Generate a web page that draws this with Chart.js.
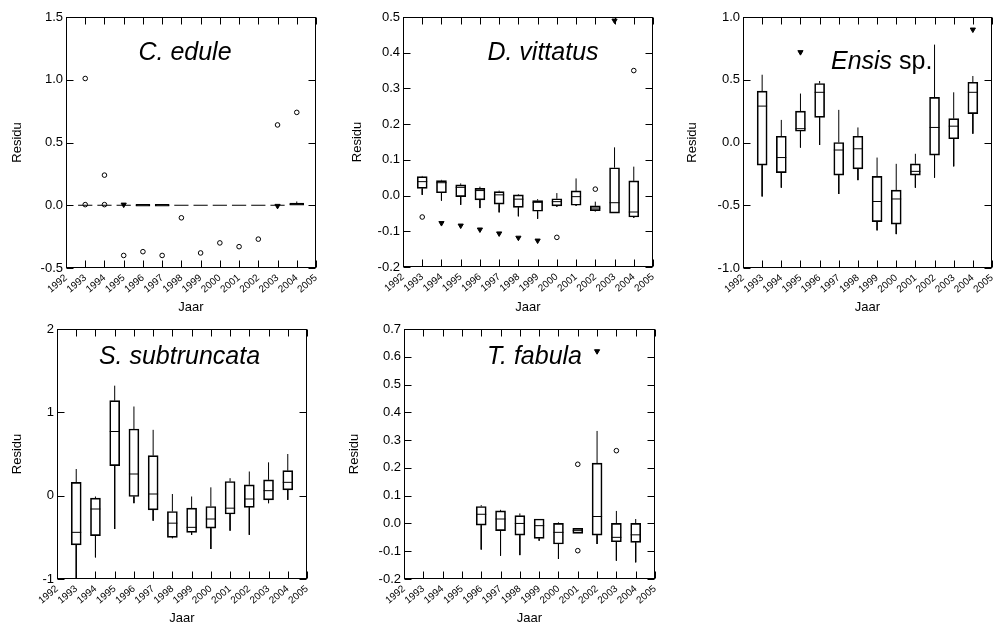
<!DOCTYPE html>
<html><head><meta charset="utf-8">
<script src="https://cdn.jsdelivr.net/npm/chart.js@4.4.1/dist/chart.umd.min.js"></script>
<style>
html,body{margin:0;padding:0;background:#fff;width:997px;height:623px;overflow:hidden;}
canvas{position:absolute;}
</style></head><body>
<canvas id="c1" width="330" height="315" style="left:0px;top:0px"></canvas>
<canvas id="c2" width="330" height="315" style="left:330px;top:0px"></canvas>
<canvas id="c3" width="337" height="315" style="left:660px;top:0px"></canvas>
<canvas id="c4" width="330" height="308" style="left:0px;top:315px"></canvas>
<canvas id="c5" width="330" height="308" style="left:330px;top:315px"></canvas>
<script>
// ---------- shared ----------
const xTickLabels = ['1992','1993','1994','1995','1996','1997','1998','1999','2000','2001','2002','2003','2004','2005'];
const xTitle = 'Jaar';
const yTitle = 'Residu';

// ---------- C. edule ----------
const edYears = [1993,1994,1995,1996,1997,1998,1999,2000,2001,2002,2003,2004];
const edLow   = [0,0,0,-0.008,-0.008,0,0,0,0,0,0,0.000];
const edQ1    = [0,0,0,-0.008,-0.008,0,0,0,0,0,0,0.000];
const edMed   = [0,0,0,0,0,0,0,0,0,0,0,0.008];
const edQ3    = [0,0,0,0.008,0.008,0,0,0,0,0,0,0.018];
const edHigh  = [0,0,0,0.008,0.008,0,0,0,0,0,0,0.030];
const edCircX = [1993,1993,1994,1994,1995,1996,1997,1998,1999,2000,2001,2002,2003,2004];
const edCircY = [1.01,0.005,0.24,0.005,-0.40,-0.37,-0.40,-0.10,-0.38,-0.30,-0.33,-0.27,0.64,0.74];
const edStarX = [1995,2003];
const edStarY = [0.005,-0.005];
const edYLabels = ['-0.5','0.0','0.5','1.0','1.5'];

// ---------- D. vittatus ----------
const dvYears = [1993,1994,1995,1996,1997,1998,1999,2000,2001,2002,2003,2004];
const dvLow   = [0.002,-0.014,-0.026,-0.035,-0.047,-0.058,-0.065,-0.031,-0.029,-0.044,-0.049,-0.062];
const dvQ1    = [0.020,0.008,-0.003,-0.012,-0.024,-0.033,-0.044,-0.029,-0.027,-0.042,-0.049,-0.060];
const dvMed   = [0.039,0.036,0.023,0.014,0.002,-0.010,-0.019,-0.017,-0.003,-0.035,-0.020,-0.046];
const dvQ3    = [0.053,0.042,0.030,0.020,0.011,0.002,-0.014,-0.009,0.013,-0.029,0.078,0.041];
const dvHigh  = [0.055,0.044,0.034,0.025,0.014,0.004,-0.010,0.007,0.048,-0.017,0.135,0.081];
const dvCircX = [1993,2000,2002,2004];
const dvCircY = [-0.060,-0.117,0.018,0.350];
const dvStarX = [1994,1995,1996,1997,1998,1999,2003];
const dvStarY = [-0.077,-0.084,-0.095,-0.106,-0.118,-0.126,0.49];
const dvYLabels = ['-0.2','-0.1','0.0','0.1','0.2','0.3','0.4','0.5'];

// ---------- Ensis sp. ----------
const enYears = [1993,1994,1995,1996,1997,1998,1999,2000,2001,2002,2003,2004];
const enLow   = [-0.43,-0.36,-0.04,-0.02,-0.41,-0.30,-0.70,-0.73,-0.36,-0.28,-0.19,0.07];
const enQ1    = [-0.18,-0.24,0.09,0.20,-0.26,-0.21,-0.63,-0.65,-0.26,-0.10,0.03,0.23];
const enMed   = [0.29,-0.12,0.11,0.40,-0.06,-0.05,-0.47,-0.45,-0.23,0.12,0.13,0.40];
const enQ3    = [0.41,0.05,0.25,0.47,0.00,0.05,-0.27,-0.38,-0.17,0.36,0.19,0.48];
const enHigh  = [0.54,0.18,0.39,0.49,0.26,0.12,-0.12,-0.17,-0.09,0.78,0.40,0.53];
const enCircX = [];
const enCircY = [];
const enStarX = [1995,2004];
const enStarY = [0.72,0.90];
const enYLabels = ['-1.0','-0.5','0.0','0.5','1.0'];

// ---------- S. subtruncata ----------
const ssYears = [1993,1994,1995,1996,1997,1998,1999,2000,2001,2002,2003,2004];
const ssLow   = [-1.00,-0.74,-0.40,-0.09,-0.30,-0.51,-0.47,-0.64,-0.42,-0.47,-0.09,-0.05];
const ssQ1    = [-0.59,-0.48,0.36,-0.01,-0.17,-0.50,-0.44,-0.39,-0.22,-0.14,-0.05,0.07];
const ssMed   = [-0.44,-0.16,0.77,0.26,0.02,-0.33,-0.38,-0.28,-0.15,-0.04,0.06,0.16];
const ssQ3    = [0.16,-0.03,1.14,0.80,0.48,-0.19,-0.15,-0.13,0.17,0.13,0.19,0.30];
const ssHigh  = [0.32,-0.01,1.32,1.07,0.79,0.02,-0.01,0.10,0.21,0.29,0.40,0.50];
const ssCircX = [];
const ssCircY = [];
const ssStarX = [];
const ssStarY = [];
const ssYLabels = ['-1','0','1','2'];

// ---------- T. fabula ----------
const tfYears = [1996,1997,1998,1999,2000,2001,2002,2003,2004];
const tfLow   = [-0.094,-0.116,-0.114,-0.062,-0.128,-0.036,-0.074,-0.134,-0.140];
const tfQ1    = [-0.006,-0.026,-0.042,-0.054,-0.074,-0.036,-0.042,-0.066,-0.068];
const tfMed   = [0.033,0.016,0.000,-0.008,-0.032,-0.026,0.025,-0.050,-0.041];
const tfQ3    = [0.061,0.045,0.028,0.016,0.000,-0.018,0.217,0.000,0.000];
const tfHigh  = [0.066,0.049,0.036,0.016,0.004,-0.018,0.333,0.045,0.016];
const tfCircX = [2001,2001,2003];
const tfCircY = [0.213,-0.098,0.262];
const tfStarX = [2002];
const tfStarY = [0.62];
const tfYLabels = ['-0.2','-0.1','0.0','0.1','0.2','0.3','0.4','0.5','0.6','0.7'];

// ---------- drawing helpers ----------
const FONT = '"Liberation Sans", Arial, sans-serif';
const TICK_LEN = 7;

const framePlugin = {
  id: 'frame',
  afterDatasetsDraw(chart, args, opts) {
    const {ctx, chartArea: a, scales: {x, y}} = chart;
    ctx.save();
    ctx.strokeStyle = '#000';
    ctx.lineWidth = 1;
    const L = Math.round(a.left) + 0.5, R = Math.round(a.right) - 0.5;
    const T = Math.round(a.top) + 0.5, B = Math.round(a.bottom) - 0.5;
    ctx.strokeRect(L, T, R - L, B - T);
    ctx.beginPath();
    x.ticks.forEach(t => {
      const px = Math.round(x.getPixelForValue(t.value)) + 0.5;
      ctx.moveTo(px, T); ctx.lineTo(px, T + TICK_LEN);
      ctx.moveTo(px, B); ctx.lineTo(px, B - TICK_LEN);
    });
    y.ticks.forEach(t => {
      const py = Math.round(y.getPixelForValue(t.value)) + 0.5;
      ctx.moveTo(L, py); ctx.lineTo(L + TICK_LEN, py);
      ctx.moveTo(R, py); ctx.lineTo(R - TICK_LEN, py);
    });
    ctx.stroke();
    // panel title inside the plot
    const parts = opts.parts || [];
    ctx.fillStyle = '#000';
    ctx.textBaseline = 'middle';
    ctx.textAlign = 'left';
    let total = 0;
    const widths = parts.map(p => {
      ctx.font = (p.italic ? 'italic ' : '') + opts.size + 'px ' + FONT;
      const w = ctx.measureText(p.text).width; total += w; return w;
    });
    let cx = a.left + opts.cx * (a.right - a.left) - total / 2;
    const cy = a.top + opts.cy;
    parts.forEach((p, i) => {
      ctx.font = (p.italic ? 'italic ' : '') + opts.size + 'px ' + FONT;
      ctx.fillText(p.text, cx, cy);
      cx += widths[i];
    });
    ctx.restore();
  }
};

function makePanel(id, p) {
  const boxes = p.years.map((yr, i) => ({x: yr, y: [p.q1[i], p.q3[i]]}));
  const whiskers = [];
  p.years.forEach((yr, i) => {
    whiskers.push({x: yr, y: p.q3[i]}, {x: yr, y: p.high[i]}, {x: yr, y: null},
                  {x: yr, y: p.q1[i]}, {x: yr, y: p.low[i]}, {x: yr, y: null});
  });
  const medians = [];
  p.years.forEach((yr, i) => {
    medians.push({x: yr - p.medHalf, y: p.med[i]}, {x: yr + p.medHalf, y: p.med[i]}, {x: yr, y: null});
  });
  const circles = p.circX.map((v, i) => ({x: v, y: p.circY[i]}));
  const stars = p.starX.map((v, i) => ({x: v, y: p.starY[i]}));
  const yVals = p.yLabels.map(Number);
  const xVals = xTickLabels.map(Number);

  new Chart(document.getElementById(id), {
    type: 'bar',
    data: {
      datasets: [
        {type: 'line', data: medians, borderColor: '#000', borderWidth: 1, pointRadius: 0, spanGaps: false, fill: false},
        {type: 'line', data: whiskers, borderColor: '#000', borderWidth: 1, pointRadius: 0, spanGaps: false, fill: false},
        {type: 'bar', data: boxes, barThickness: p.boxPx, borderWidth: 1, borderColor: '#000',
         backgroundColor: 'rgba(255,255,255,0)', borderSkipped: false},
        {type: 'line', data: circles, showLine: false, pointStyle: 'circle', pointRadius: 2.3,
         pointBorderWidth: 1, pointBorderColor: '#000', pointBackgroundColor: '#fff', clip: false},
        {type: 'line', data: stars, showLine: false, pointStyle: 'triangle', pointRotation: 180, pointRadius: 3,
         pointBorderWidth: 1, pointBorderColor: '#000', pointBackgroundColor: '#000', clip: false}
      ]
    },
    options: {
      responsive: false,
      animation: false,
      devicePixelRatio: 1,
      layout: {padding: {left: 0, right: p.padRight, top: p.padTop, bottom: 0}},
      plugins: {
        legend: {display: false},
        tooltip: {enabled: false},
        frame: {parts: p.title, cx: p.titleCx, cy: p.titleCy, size: 25}
      },
      scales: {
        x: {
          type: 'linear', min: 1992, max: 2005, offset: false,
          grid: {display: false, drawTicks: false, offset: false},
          border: {display: false},
          afterBuildTicks: s => { s.ticks = xVals.map(v => ({value: v})); },
          ticks: {
            autoSkip: false, minRotation: 40, maxRotation: 40, padding: 4, color: '#000',
            font: {family: FONT, size: 10},
            callback: (v, i) => xTickLabels[i]
          },
          title: {display: true, text: xTitle, color: '#000', font: {family: FONT, size: 13},
                  padding: {top: 0, bottom: p.xTitlePad}},
          afterFit: s => { s.height = p.xHeight; s.paddingLeft = 0; s.paddingRight = 0; }
        },
        y: {
          type: 'linear', min: yVals[0], max: yVals[yVals.length - 1],
          grid: {display: false, drawTicks: false},
          border: {display: false},
          afterBuildTicks: s => { s.ticks = yVals.map(v => ({value: v})); },
          ticks: {
            padding: 3, color: '#000', font: {family: FONT, size: 13},
            callback: (v, i) => p.yLabels[i]
          },
          title: {display: true, text: yTitle, color: '#000', font: {family: FONT, size: 13},
                  padding: {top: p.yTitlePad, bottom: 0}},
          afterFit: s => { s.width = p.yWidth; s.paddingTop = 0; s.paddingBottom = 0; }
        }
      }
    },
    plugins: [framePlugin]
  });
}

makePanel('c1', {years: edYears, low: edLow, q1: edQ1, med: edMed, q3: edQ3, high: edHigh,
  circX: edCircX, circY: edCircY, starX: edStarX, starY: edStarY, yLabels: edYLabels,
  title: [{text: 'C. edule', italic: true}], titleCx: 0.476, titleCy: 36, boxPx: 14, medHalf: 0.37,
  yWidth: 66, padRight: 14, padTop: 17, xHeight: 47, yTitlePad: 10, xTitlePad: 0});

makePanel('c2', {years: dvYears, low: dvLow, q1: dvQ1, med: dvMed, q3: dvQ3, high: dvHigh,
  circX: dvCircX, circY: dvCircY, starX: dvStarX, starY: dvStarY, yLabels: dvYLabels,
  title: [{text: 'D. vittatus', italic: true}], titleCx: 0.56, titleCy: 36, boxPx: 10, medHalf: 0.26,
  yWidth: 73, padRight: 7, padTop: 17, xHeight: 48, yTitlePad: 20, xTitlePad: 0});

makePanel('c3', {years: enYears, low: enLow, q1: enQ1, med: enMed, q3: enQ3, high: enHigh,
  circX: enCircX, circY: enCircY, starX: enStarX, starY: enStarY, yLabels: enYLabels,
  title: [{text: 'Ensis', italic: true}, {text: ' sp.', italic: false}], titleCx: 0.557, titleCy: 45, boxPx: 10, medHalf: 0.26,
  yWidth: 83, padRight: 4, padTop: 17, xHeight: 47, yTitlePad: 25, xTitlePad: 0});

makePanel('c4', {years: ssYears, low: ssLow, q1: ssQ1, med: ssMed, q3: ssQ3, high: ssHigh,
  circX: ssCircX, circY: ssCircY, starX: ssStarX, starY: ssStarY, yLabels: ssYLabels,
  title: [{text: 'S. subtruncata', italic: true}], titleCx: 0.49, titleCy: 28, boxPx: 10, medHalf: 0.26,
  yWidth: 57, padRight: 23, padTop: 14, xHeight: 44, yTitlePad: 10, xTitlePad: -3});

makePanel('c5', {years: tfYears, low: tfLow, q1: tfQ1, med: tfMed, q3: tfQ3, high: tfHigh,
  circX: tfCircX, circY: tfCircY, starX: tfStarX, starY: tfStarY, yLabels: tfYLabels,
  title: [{text: 'T. fabula', italic: true}], titleCx: 0.52, titleCy: 28, boxPx: 10, medHalf: 0.26,
  yWidth: 74, padRight: 5, padTop: 14, xHeight: 44, yTitlePad: 17, xTitlePad: -3});
</script>
</body></html>
